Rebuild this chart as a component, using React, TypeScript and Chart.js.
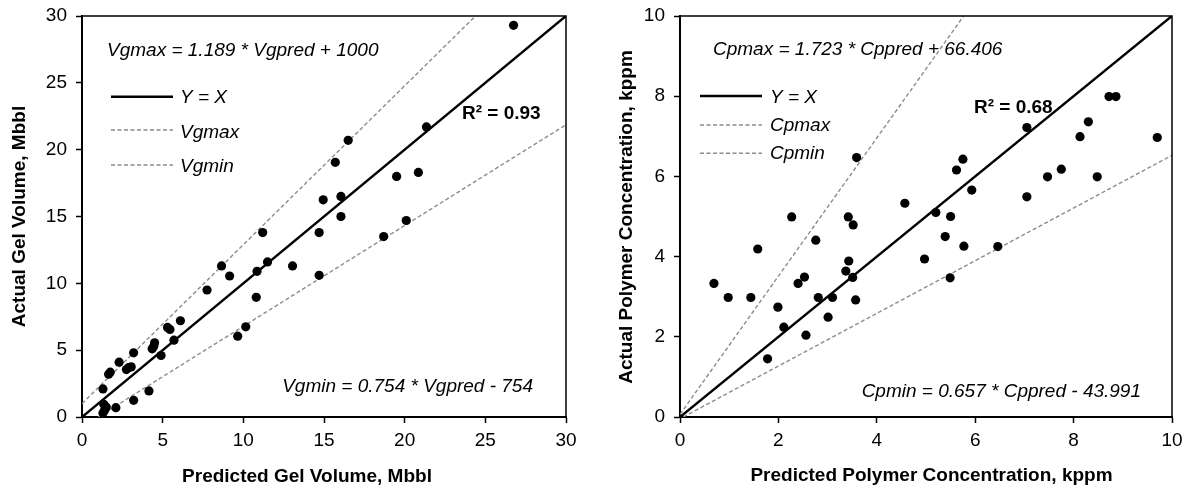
import React, { useEffect, useRef } from "react";
import { Chart, registerables } from "chart.js";

Chart.register(...registerables);

// ---------- Data ----------
const gelPredicted = [
  1.3, 1.65, 1.75, 2.3, 3.2, 2.75, 2.9, 3.05, 4.35, 4.45, 4.5, 4.9, 5.3, 5.45, 5.7, 6.1,
  7.75, 8.65, 9.15, 9.65, 10.15, 10.85, 10.8, 11.5, 13.05, 4.15, 3.2, 2.1, 1.35, 1.5, 1.4,
  1.3, 26.75, 21.35, 16.5, 15.7, 14.95, 16.05, 16.05, 14.7, 19.5, 20.85, 20.1, 18.7, 11.2, 14.7,
];
const gelActual = [
  2.1, 3.2, 3.35, 4.1, 4.8, 3.55, 3.7, 3.75, 5.1, 5.3, 5.55, 4.6, 6.7, 6.55, 5.75, 7.2,
  9.5, 11.3, 10.55, 6.05, 6.75, 10.9, 8.95, 11.6, 11.3, 1.95, 1.25, 0.7, 0.95, 0.75, 0.5,
  0.3, 29.3, 21.7, 20.7, 19.05, 16.25, 16.5, 15.0, 13.8, 18.0, 18.3, 14.7, 13.5, 13.8, 10.6,
];

const polyPredicted = [
  2.76, 1.58, 0.69, 0.98, 1.44, 1.99, 2.11, 1.78, 2.4, 2.53, 2.56, 2.81, 3.1, 3.01, 3.43, 3.37,
  3.51, 3.57, 7.05, 8.72, 8.86, 8.3, 8.13, 9.7, 5.75, 5.62, 5.93, 7.47, 7.75, 8.48, 7.05, 5.2,
  5.5, 5.39, 5.77, 6.46, 4.57, 4.97, 5.49, 3.59, 2.27, 3.42, 3.52,
];
const polyActual = [
  4.41, 4.19, 3.33, 2.98, 2.98, 2.74, 2.24, 1.45, 3.33, 3.49, 2.04, 2.98, 2.98, 2.49, 3.89, 3.64,
  3.48, 2.92, 7.22, 7.99, 7.99, 7.36, 6.99, 6.97, 6.43, 6.16, 5.66, 5.99, 6.18, 5.99, 5.49, 5.1,
  5.0, 4.5, 4.26, 4.25, 5.33, 3.94, 3.47, 6.47, 4.99, 4.99, 4.79,
];

const gelAxisMax = 30;
const gelTickStep = 5;
const polyAxisMax = 10;
const polyTickStep = 2;

// [slope, intercept] in axis units
const gelMaxCoef = [1.189, 1.0];
const gelMinCoef = [0.754, -0.754];
const polyMaxCoef = [1.723, 0.066406];
const polyMinCoef = [0.657, -0.043991];

const gelR2 = "R² = 0.93";
const polyR2 = "R² = 0.68";

// ---------- Helpers ----------
const FONT = '"Liberation Sans", Arial, Helvetica, sans-serif';
const DASH_COLOR = "#8c8c8c";

function linePoints(coef: number[], max: number) {
  const [m, b] = coef;
  const x0 = Math.max(0, -b / m);
  const x1 = Math.min(max, (max - b) / m);
  return [
    { x: x0, y: m * x0 + b },
    { x: x1, y: m * x1 + b },
  ];
}

const overlayPlugin = {
  id: "overlay",
  afterDraw(chart: any, _args: any, o: any) {
    const { ctx, chartArea: a } = chart;
    ctx.save();
    // top & right frame
    ctx.strokeStyle = "#000";
    ctx.lineWidth = 1.5;
    ctx.beginPath();
    ctx.moveTo(a.left, a.top);
    ctx.lineTo(a.right, a.top);
    ctx.lineTo(a.right, a.bottom);
    ctx.stroke();

    ctx.fillStyle = "#000";
    ctx.textBaseline = "alphabetic";
    // free texts
    for (const t of o.texts || []) {
      ctx.font = t.font;
      ctx.textAlign = t.align || "left";
      ctx.fillText(t.text, a.left + t.x, a.top + t.y);
    }
    // legend
    const lg = o.legend;
    if (lg) {
      const lines = chart.data.datasets.filter((d: any) => d.showLine);
      lines.forEach((d: any, i: number) => {
        const ly = a.top + lg.lineY[i];
        ctx.save();
        ctx.strokeStyle = d.borderColor;
        ctx.lineWidth = d.borderWidth;
        ctx.setLineDash(d.borderDash || []);
        ctx.beginPath();
        ctx.moveTo(a.left + lg.x0, ly);
        ctx.lineTo(a.left + lg.x1, ly);
        ctx.stroke();
        ctx.restore();
        ctx.font = `italic 19px ${FONT}`;
        ctx.textAlign = "left";
        ctx.fillText(d.label, a.left + lg.tx, a.top + lg.textY[i]);
      });
    }
    // axis titles
    ctx.font = `bold 19px ${FONT}`;
    ctx.textAlign = "center";
    ctx.fillText(o.xTitle.text, o.xTitle.x, o.xTitle.y);
    ctx.save();
    ctx.translate(o.yTitle.x, o.yTitle.y);
    ctx.rotate(-Math.PI / 2);
    ctx.fillText(o.yTitle.text, 0, 0);
    ctx.restore();
    ctx.restore();
  },
};

function makeConfig(p: any) {
  const tickFont = { family: FONT, size: 19 };
  const fit = (w?: number, h?: number) => (s: any) => {
    if (w !== undefined) s.width = w;
    if (h !== undefined) s.height = h;
    s.paddingTop = 0;
    s.paddingBottom = 0;
    s.paddingLeft = 0;
    s.paddingRight = 0;
  };
  return {
    type: "scatter" as const,
    data: {
      datasets: [
        {
          label: "data",
          data: p.xs.map((x: number, i: number) => ({ x, y: p.ys[i] })),
          backgroundColor: "#000",
          borderWidth: 0,
          pointRadius: 4.6,
          pointHoverRadius: 4.6,
          showLine: false,
        },
        {
          label: "Y = X",
          data: [
            { x: 0, y: 0 },
            { x: p.max, y: p.max },
          ],
          showLine: true,
          borderColor: "#000",
          borderWidth: 2.5,
          pointRadius: 0,
        },
        {
          label: p.maxLabel,
          data: linePoints(p.maxCoef, p.max),
          showLine: true,
          borderColor: DASH_COLOR,
          borderWidth: 1.4,
          borderDash: [4, 2.5],
          pointRadius: 0,
        },
        {
          label: p.minLabel,
          data: linePoints(p.minCoef, p.max),
          showLine: true,
          borderColor: DASH_COLOR,
          borderWidth: 1.4,
          borderDash: [4, 2.5],
          pointRadius: 0,
        },
      ],
    },
    options: {
      responsive: false,
      animation: false as const,
      events: [],
      layout: { padding: { left: 0, top: 16, right: p.padRight, bottom: 0 } },
      plugins: {
        legend: { display: false },
        tooltip: { enabled: false },
        overlay: p.overlay,
      },
      scales: {
        x: {
          type: "linear" as const,
          min: 0,
          max: p.max,
          ticks: { stepSize: p.step, color: "#000", font: tickFont, padding: 6 },
          grid: {
            drawOnChartArea: false,
            drawTicks: true,
            tickLength: 6,
            tickColor: "#000",
            tickWidth: 1.5,
          },
          border: { display: true, color: "#000", width: 2 },
          afterFit: fit(undefined, 73),
        },
        y: {
          type: "linear" as const,
          min: 0,
          max: p.max,
          ticks: { stepSize: p.step, color: "#000", font: tickFont, padding: 9 },
          grid: {
            drawOnChartArea: false,
            drawTicks: true,
            tickLength: 6,
            tickColor: "#000",
            tickWidth: 1.5,
          },
          border: { display: true, color: "#000", width: 2 },
          afterFit: fit(p.yWidth, undefined),
        },
      },
    },
    plugins: [overlayPlugin],
  };
}

function ChartCanvas({ config, left }: { config: any; left: number }) {
  const ref = useRef<HTMLCanvasElement | null>(null);
  useEffect(() => {
    if (!ref.current) return;
    const chart = new Chart(ref.current, config);
    return () => chart.destroy();
  }, [config]);
  return (
    <canvas
      ref={ref}
      width={593}
      height={490}
      style={{ position: "absolute", left, top: 0, width: 593, height: 490 }}
    />
  );
}

const eqFont = `italic 19px ${FONT}`;
const r2Font = `bold 19px ${FONT}`;

const gelConfig = makeConfig({
  xs: gelPredicted,
  ys: gelActual,
  max: gelAxisMax,
  step: gelTickStep,
  maxCoef: gelMaxCoef,
  minCoef: gelMinCoef,
  maxLabel: "Vgmax",
  minLabel: "Vgmin",
  padRight: 27,
  yWidth: 82,
  overlay: {
    texts: [
      { text: "Vgmax = 1.189 * Vgpred + 1000", x: 25, y: 40, font: eqFont },
      { text: gelR2, x: 380, y: 103.3, font: r2Font },
      { text: "Vgmin = 0.754 * Vgpred - 754", x: 451, y: 375.7, font: eqFont, align: "right" },
    ],
    legend: { x0: 29, x1: 91, tx: 98, lineY: [80.7, 114, 149], textY: [87.3, 121.7, 155.7] },
    xTitle: { text: "Predicted Gel Volume, Mbbl", x: 307, y: 481.5 },
    yTitle: { text: "Actual Gel Volume, Mbbl", x: 25, y: 216.5 },
  },
});

const polyConfig = makeConfig({
  xs: polyPredicted,
  ys: polyActual,
  max: polyAxisMax,
  step: polyTickStep,
  maxCoef: polyMaxCoef,
  minCoef: polyMinCoef,
  maxLabel: "Cpmax",
  minLabel: "Cpmin",
  padRight: 14,
  yWidth: 87,
  overlay: {
    texts: [
      { text: "Cpmax = 1.723 * Cppred + 66.406", x: 33, y: 39, font: eqFont },
      { text: polyR2, x: 294, y: 97.3, font: r2Font },
      { text: "Cpmin = 0.657 * Cppred - 43.991", x: 461, y: 381.3, font: eqFont, align: "right" },
    ],
    legend: { x0: 20, x1: 82, tx: 90, lineY: [80, 109, 137.3], textY: [87.3, 114.7, 143.3] },
    xTitle: { text: "Predicted Polymer Concentration, kppm", x: 931.5 - 593, y: 481 },
    yTitle: { text: "Actual Polymer Concentration, kppm", x: 632 - 593, y: 217 },
  },
});

export default function App() {
  return (
    <div
      style={{
        position: "fixed",
        left: 0,
        top: 0,
        width: 1186,
        height: 490,
        background: "#fff",
      }}
    >
      <ChartCanvas config={gelConfig} left={0} />
      <ChartCanvas config={polyConfig} left={593} />
    </div>
  );
}
